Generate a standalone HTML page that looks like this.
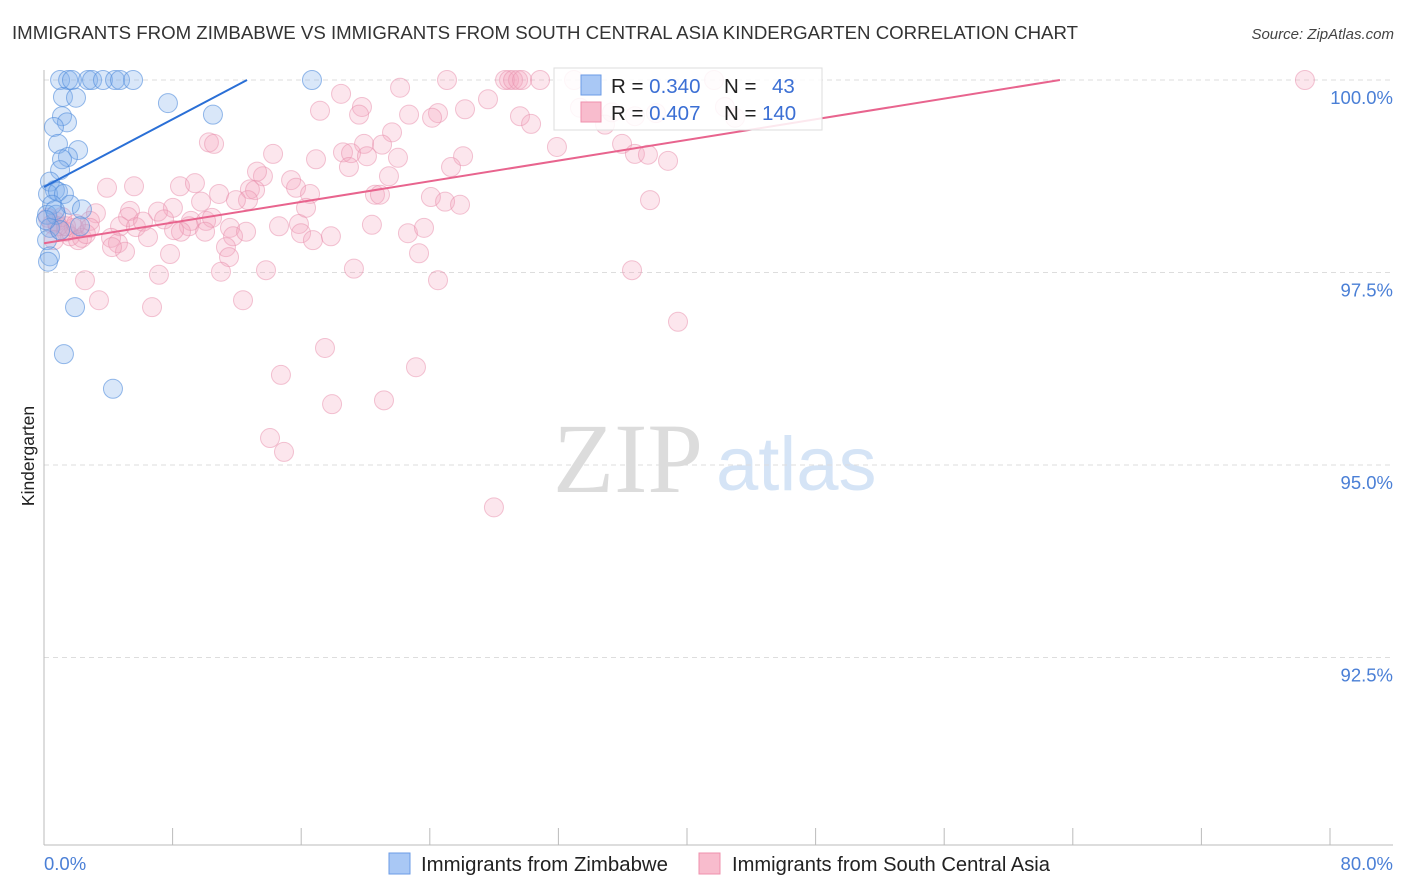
<!DOCTYPE html>
<html><head><meta charset="utf-8"><style>
body{margin:0;background:#fff;font-family:"Liberation Sans",sans-serif;}
svg{display:block}
</style></head><body>
<svg id="chart" width="1406" height="892" xmlns="http://www.w3.org/2000/svg">
<text x="12" y="39" font-size="18.4" fill="#333" textLength="1066" lengthAdjust="spacingAndGlyphs">IMMIGRANTS FROM ZIMBABWE VS IMMIGRANTS FROM SOUTH CENTRAL ASIA KINDERGARTEN CORRELATION CHART</text>
<text x="1394" y="39" font-size="15" fill="#444" font-style="italic" text-anchor="end">Source: ZipAtlas.com</text>
<g>
<text x="553" y="492" font-size="100" fill="#dcdcdc" font-family="Liberation Serif,serif">ZIP</text>
<text x="716" y="490" font-size="76" fill="#d5e4f6">atlas</text>
</g>
<g id="grid"></g>
<g id="axes"></g>
<g id="pts"></g>
<g id="lines"></g>
<g>
<rect x="554" y="68" width="268" height="62" fill="#fff" fill-opacity="0.85" stroke="#ddd"/>
<rect x="581" y="75" width="20" height="20" fill="#a9c8f5" stroke="#6b9be6"/>
<rect x="581" y="102" width="20" height="20" fill="#f8bccd" stroke="#ef90ad"/>
<text x="611" y="93" font-size="20.5" fill="#222">R = <tspan fill="#3b6fd4">0.340</tspan><tspan x="724">N = </tspan><tspan x="772" fill="#3b6fd4">43</tspan></text>
<text x="611" y="120" font-size="20.5" fill="#222">R = <tspan fill="#3b6fd4">0.407</tspan><tspan x="724">N = </tspan><tspan x="762" fill="#3b6fd4">140</tspan></text>
</g>
<text transform="translate(34,456) rotate(-90)" font-size="17.5" fill="#222" text-anchor="middle">Kindergarten</text>
<g>
<rect x="389" y="853" width="21" height="21" fill="#a9c8f5" stroke="#6b9be6"/>
<text x="421" y="871" font-size="20" fill="#222" textLength="247" lengthAdjust="spacingAndGlyphs">Immigrants from Zimbabwe</text>
<rect x="699" y="853" width="21" height="21" fill="#f8bccd" stroke="#ef90ad"/>
<text x="732" y="871" font-size="20" fill="#222" textLength="318" lengthAdjust="spacingAndGlyphs">Immigrants from South Central Asia</text>
</g>
</svg>
<script>
const yTicks=[100,97.5,95,92.5];
const yTickLabels=["100.0%","97.5%","95.0%","92.5%"];
const xTickVals=[0,8,16,24,32,40,48,56,64,72,80];
const xEndLabels=["0.0%","80.0%"];
const blueX=[1.0,1.5,1.74,2.74,2.99,3.67,4.42,4.73,5.54,16.67,1.18,1.99,7.71,1.12,1.43,10.51,0.62,0.87,2.12,1.49,1.12,1.0,0.37,0.68,0.25,0.87,1.24,0.5,1.62,2.36,0.19,0.75,0.37,0.19,0.37,0.25,1.93,1.24,4.29,1.0,2.24,0.68,0.12];
const blueY=[100,100,100,100,100,100,100,100,100,100,99.78,99.77,99.7,99.53,99.45,99.55,99.39,99.17,99.09,99.0,98.97,98.83,98.68,98.57,98.52,98.55,98.52,98.38,98.38,98.32,98.25,98.25,98.08,97.92,97.71,97.64,97.05,96.44,95.99,98.05,98.1,98.31,98.18];
const pinkX=[25.07,28.68,28.93,29.18,29.49,29.74,30.86,32.97,41.68,78.44,18.48,22.15,19.78,17.17,19.6,22.71,24.51,26.19,27.62,24.14,29.61,30.3,21.65,19.91,21.03,10.26,10.58,35.96,36.76,37.57,38.82,31.91,26.07,22.02,16.92,14.25,18.6,19.1,20.09,18.97,25.32,21.46,13.62,13.25,15.37,15.68,16.55,20.59,20.9,24.07,24.95,25.88,37.7,3.92,5.6,8.46,9.39,10.89,12.81,13.13,12.69,11.94,9.77,8.02,7.09,5.35,5.23,3.23,2.86,4.73,5.72,6.16,7.47,9.14,10.08,10.45,9.02,8.52,8.09,10.02,11.57,11.76,12.57,14.62,15.86,16.3,15.99,16.73,17.85,20.4,22.64,23.64,4.17,4.6,5.04,6.47,7.84,11.32,11.51,4.23,23.33,11.01,13.81,19.28,36.58,7.15,2.55,24.51,3.42,6.72,12.38,39.44,17.48,23.14,14.74,17.92,21.15,14.06,14.93,27.99,0.75,0.5,1.0,1.37,1.62,1.87,2.12,2.36,1.12,0.87,2.61,1.37,0.25,0.62,1.99,2.86,33.34,34.9,35.33,38.07,36.76,42.36,42.99];
const pinkY=[100,100,100,100,100,100,100,100,100,100,99.82,99.9,99.65,99.6,99.55,99.55,99.57,99.62,99.75,99.51,99.53,99.43,99.32,99.17,99.16,99.19,99.17,99.17,99.04,99.03,98.95,99.13,99.01,98.99,98.97,99.04,99.06,99.05,99.01,98.87,98.87,98.75,98.75,98.81,98.7,98.6,98.52,98.51,98.51,98.48,98.42,98.38,98.44,98.6,98.62,98.62,98.66,98.52,98.58,98.57,98.44,98.44,98.42,98.34,98.29,98.3,98.22,98.27,98.17,98.1,98.09,98.16,98.19,98.17,98.17,98.21,98.1,98.03,98.05,98.03,98.08,97.97,98.03,98.1,98.13,98.34,98.01,97.92,97.97,98.12,98.01,98.08,97.95,97.88,97.77,97.96,97.74,97.83,97.7,97.83,97.75,97.51,97.53,97.55,97.53,97.47,97.4,97.4,97.14,97.05,97.14,96.86,96.52,96.27,96.17,95.79,95.84,95.35,95.17,94.45,98.16,98.13,98.05,98.03,97.97,98.08,97.92,97.95,98.22,98.1,98.0,98.1,98.21,97.92,98.13,98.08,99.64,99.42,99.58,99.57,99.53,99.65,99.51];
const blueTrendX=[0,12.63];
const blueTrendY=[98.61,100];
const pinkTrendX=[0,63.2];
const pinkTrendY=[97.88,100];

const NS="http://www.w3.org/2000/svg";
const xs=v=>44+v*16.075;
const ys=v=>80+(100-v)*77;
function mk(tag,attrs,parent){const e=document.createElementNS(NS,tag);for(const k in attrs)e.setAttribute(k,attrs[k]);parent.appendChild(e);return e;}
const grid=document.getElementById('grid'),axes=document.getElementById('axes'),pts=document.getElementById('pts'),lines=document.getElementById('lines');
yTicks.forEach((t,i)=>{
  const l=mk('line',{x1:44,x2:1393,y1:ys(t),y2:ys(t),stroke:'#ddd','stroke-dasharray':'5,4'},grid);
  
  
  const tx=mk('text',{x:1393,y:ys(t)+24,'font-size':18.5,fill:'#4a7fd6','text-anchor':'end'},axes);
  tx.textContent=yTickLabels[i];
  
  
});
const ax=mk('line',{x1:44,x2:1393,y1:845,y2:845,stroke:'#bbb'},axes);


const ay=mk('line',{x1:44,x2:44,y1:70,y2:845,stroke:'#bbb'},axes);


xTickVals.forEach(v=>{
  const t=mk('line',{x1:xs(v),x2:xs(v),y1:828,y2:845,stroke:'#bbb'},axes);
  
  
});
const xl0=mk('text',{x:44,y:870,'font-size':18.5,fill:'#4a7fd6'},axes);
xl0.textContent=xEndLabels[0];


const xl1=mk('text',{x:1393,y:870,'font-size':18.5,fill:'#4a7fd6','text-anchor':'end'},axes);
xl1.textContent=xEndLabels[1];


pinkX.forEach((x,i)=>{
  const c=mk('circle',{cx:xs(x),cy:ys(pinkY[i]),r:9.5,fill:'rgba(245,165,190,0.28)',stroke:'rgba(232,140,170,0.5)','stroke-width':1},pts);
  
  
});
blueX.forEach((x,i)=>{
  const c=mk('circle',{cx:xs(x),cy:ys(blueY[i]),r:9.5,fill:'rgba(130,175,235,0.3)',stroke:'rgba(80,140,220,0.6)','stroke-width':1},pts);
  
  
});
const bl=mk('line',{x1:xs(blueTrendX[0]),y1:ys(blueTrendY[0]),x2:xs(blueTrendX[1]),y2:ys(blueTrendY[1]),stroke:'#2a6fd6','stroke-width':2},lines);


const pl=mk('line',{x1:xs(pinkTrendX[0]),y1:ys(pinkTrendY[0]),x2:xs(pinkTrendX[1]),y2:ys(pinkTrendY[1]),stroke:'#e8648e','stroke-width':2},lines);


</script>
</body></html>
